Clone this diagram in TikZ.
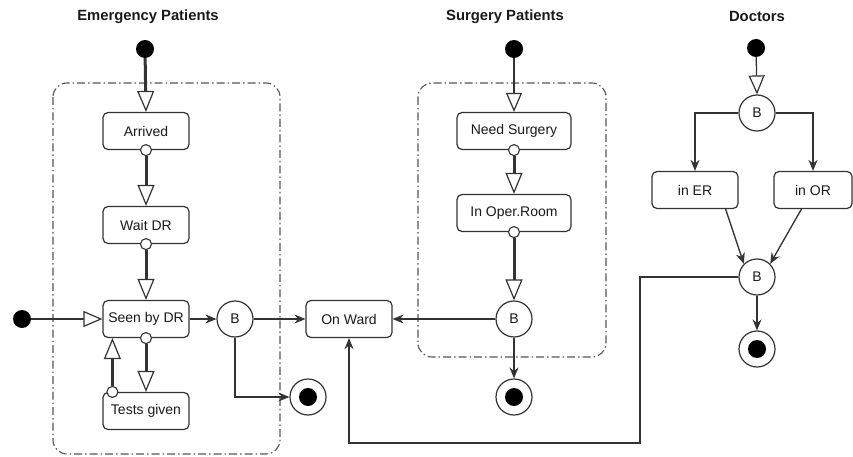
\documentclass[tikz,border=0pt]{standalone}
\usepackage{fontspec}
\setmainfont{Liberation Sans}
\usetikzlibrary{arrows.meta,calc}
\definecolor{lc}{HTML}{333333}
\definecolor{tc}{HTML}{1A1A1A}
\definecolor{cc}{HTML}{555555}
\begin{document}
\begin{tikzpicture}[x=1pt,y=-1pt,
  title/.style={font=\bfseries\fontsize{14.8}{17}\selectfont, text=tc, inner sep=0pt},
  box/.style={draw=lc, line width=1.2pt, rounded corners=5pt, minimum width=86pt, minimum height=37pt, font=\fontsize{14}{16}\selectfont, text=tc, inner sep=0pt},
  branch/.style={circle, draw=lc, line width=1.2pt, fill=white, minimum size=36pt, inner sep=0pt, font=\fontsize{14}{16}\selectfont, text=tc},
  startdot/.style={circle, fill=black, minimum size=18pt, inner sep=0pt},
  finalst/.style={circle, draw=lc, line width=1.2pt, minimum size=36pt, inner sep=0pt},
  port/.style={circle, draw=lc, fill=white, line width=1.1pt, minimum size=11pt, inner sep=0pt},
  container/.style={draw=cc, line width=1.1pt, rounded corners=14pt, dash pattern=on 8pt off 3pt on 1.5pt off 3pt},
  thickflow/.style={draw=lc, line width=3pt, -{Triangle[open, length=21pt, width=17pt, line width=1.2pt]}},
  thinopen/.style={draw=lc, line width=1.3pt, -{Triangle[open, length=19pt, width=16pt, line width=1.2pt]}},
  thinflow/.style={draw=lc, line width=1.3pt, -{Stealth[length=11pt, width=9pt]}}
]
\useasboundingbox (0,0) rectangle (853,457);
\fill[white] (0,0) rectangle (853,457);

% containers
\draw[container] (53,83) rectangle (280,454);
\draw[container] (418,83) rectangle (606,357);

% titles
\node[title] (t1) at (148,17) {Emergency Patients};
\node[title] (t2) at (505,17) {Surgery Patients};
\node[title] (t3) at (757,16) {Doctors};

% emergency lane
\node[startdot] (es) at (145,49) {};
\node[box] (arrived) at (146,131) {Arrived};
\node[box] (waitdr) at (146,225) {Wait DR};
\node[box] (seen) at (146,319) {Seen by DR};
\node[box] (tests) at (146,411) {Tests given};
\node[startdot] (ls) at (22,319) {};
\node[branch] (eb) at (235,319) {B};
\node[finalst] (efin) at (308,397) {};
\fill[black] (efin.center) circle (9pt);

% ward
\node[box] (ward) at (349,319) {On Ward};

% surgery lane
\node[startdot] (ss) at (514,49) {};
\node[box, minimum width=114pt] (needs) at (514,131) {Need Surgery};
\node[box, minimum width=114pt] (inop) at (514,213) {In Oper.Room};
\node[branch] (sb) at (514,319) {B};
\node[finalst] (sfin) at (514,397) {};
\fill[black] (sfin.center) circle (9pt);

% doctors lane
\node[startdot] (ds) at (756,48) {};
\node[branch] (db) at (757,113) {B};
\node[box] (ier) at (695,190) {in ER};
\node[box, minimum width=78pt] (ior) at (813,190) {in OR};
\node[branch] (db2) at (757,277) {B};
\node[finalst] (dfin) at (757,349) {};
\fill[black] (dfin.center) circle (9pt);

% ports
\node[port] (p1) at (arrived.south) {};
\node[port] (p2) at (waitdr.south) {};
\node[port] (p3) at (seen.south) {};
\node[port] (p4) at ($(tests.north west)+(10,0)$) {};
\node[port] (p5) at (needs.south) {};
\node[port] (p6) at (inop.south) {};

% emergency connectors
\draw[thickflow] (es) -- (arrived.north);
\draw[thickflow] (p1) -- (waitdr.north);
\draw[thickflow] (p2) -- (seen.north);
\draw[thickflow] (p3) -- (tests.north);
\draw[thickflow] (p4) -- (p4 |- seen.south);
\draw[thinopen] (ls) -- (seen.west);
\draw[thinflow] (seen.east) -- (eb.west);
\draw[thinflow] (eb.east) -- (ward.west);
\draw[thinflow] (eb.south) |- (efin.west);

% surgery connectors
\draw[thinopen] (ss) -- (needs.north);
\draw[thickflow] (p5) -- (inop.north);
\draw[thickflow] (p6) -- (sb.north);
\draw[thinflow] (sb.west) -- (ward.east);
\draw[thinflow] (sb.south) -- (sfin.north);

% doctors connectors
\draw[thinopen] (ds) -- (db.north);
\draw[thinflow] (db.west) -| (ier.north);
\draw[thinflow] (db.east) -| (ior.north);
\coordinate (erout) at ($(ier.south east)+(-13,0)$);
\coordinate (orout) at ($(ior.south west)+(28,0)$);
\draw[thinflow] (erout) -- (db2.north west);
\draw[thinflow] (orout) -- (db2.north east);
\draw[thinflow] (db2.south) -- (dfin.north);
\coordinate (bend1) at (640,277);
\coordinate (bend2) at (640,443);
\draw[thinflow] (db2.west) -- (bend1) -- (bend2) -| (ward.south);
\end{tikzpicture}
\end{document}
